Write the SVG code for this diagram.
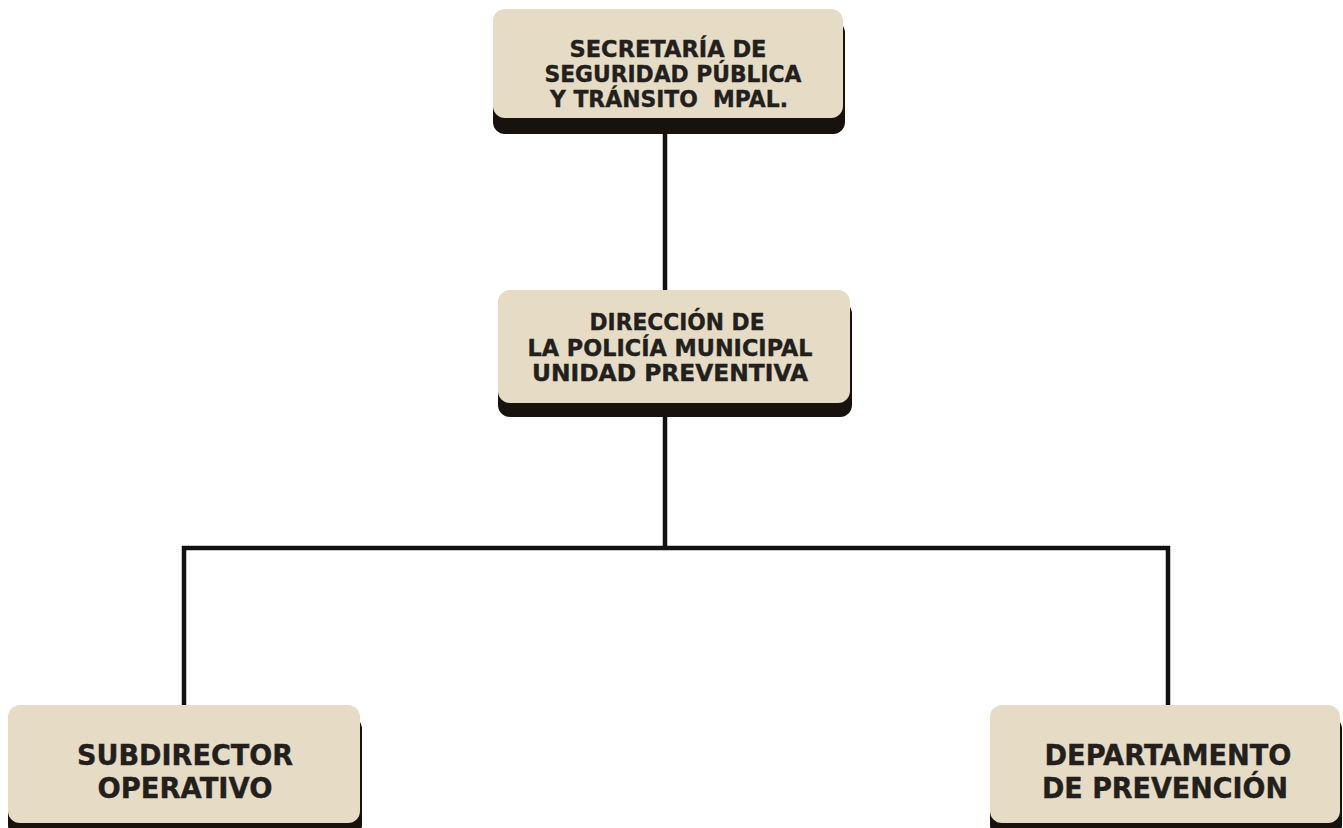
<svg xmlns="http://www.w3.org/2000/svg" width="1343" height="828" viewBox="0 0 1343 828">
<style>
.sh{fill:#17120e}
.bx{fill:#e6dcc5}
.t{font-family:"DejaVu Sans","Liberation Sans",sans-serif;font-weight:bold;fill:#231f1c;stroke:#231f1c;stroke-width:0.4;text-anchor:middle;white-space:pre}
.s{font-size:22.5px}
.b{font-size:28px}
.ln{stroke:#111;stroke-width:4.5;fill:none}
</style>
<rect width="1343" height="828" fill="#fff"/>
<g id="connectors">
<line class="ln" x1="665" y1="130" x2="665" y2="292"/>
<line class="ln" x1="665" y1="414" x2="665" y2="548"/>
<line class="ln" x1="182" y1="548" x2="1170" y2="548"/>
<line class="ln" x1="184" y1="546" x2="184" y2="707"/>
<line class="ln" x1="1168" y1="546" x2="1168" y2="707"/>
</g>
<g id="secretaria">
<rect class="sh" x="493" y="21" width="352" height="113" rx="12"/>
<rect class="bx" x="493" y="9" width="350" height="109" rx="12"/>
<text class="t s" x="668" y="57" textLength="197" lengthAdjust="spacingAndGlyphs">SECRETARÍA DE</text>
<text class="t s" x="673" y="82" textLength="257" lengthAdjust="spacingAndGlyphs">SEGURIDAD PÚBLICA</text>
<text class="t s" x="669" y="107" textLength="238" lengthAdjust="spacingAndGlyphs" xml:space="preserve">Y TRÁNSITO  MPAL.</text>
</g>
<g id="direccion">
<rect class="sh" x="498" y="302" width="354" height="115" rx="12"/>
<rect class="bx" x="498" y="290" width="352" height="113" rx="12"/>
<text class="t s" x="677" y="330" textLength="175" lengthAdjust="spacingAndGlyphs">DIRECCIÓN DE</text>
<text class="t s" x="670" y="356" textLength="285" lengthAdjust="spacingAndGlyphs">LA POLICÍA MUNICIPAL</text>
<text class="t s" x="670" y="381" textLength="276" lengthAdjust="spacingAndGlyphs">UNIDAD PREVENTIVA</text>
</g>
<g id="subdirector">
<rect class="sh" x="8" y="717" width="354" height="120" rx="12"/>
<rect class="bx" x="8" y="705" width="352" height="118" rx="12"/>
<text class="t b" x="185" y="765" textLength="216" lengthAdjust="spacingAndGlyphs">SUBDIRECTOR</text>
<text class="t b" x="185" y="798" textLength="175" lengthAdjust="spacingAndGlyphs">OPERATIVO</text>
</g>
<g id="departamento">
<rect class="sh" x="990" y="717" width="352" height="120" rx="12"/>
<rect class="bx" x="990" y="705" width="350" height="118" rx="12"/>
<text class="t b" x="1168" y="765" textLength="247" lengthAdjust="spacingAndGlyphs">DEPARTAMENTO</text>
<text class="t b" x="1165" y="798" textLength="246" lengthAdjust="spacingAndGlyphs">DE PREVENCIÓN</text>
</g>
</svg>
